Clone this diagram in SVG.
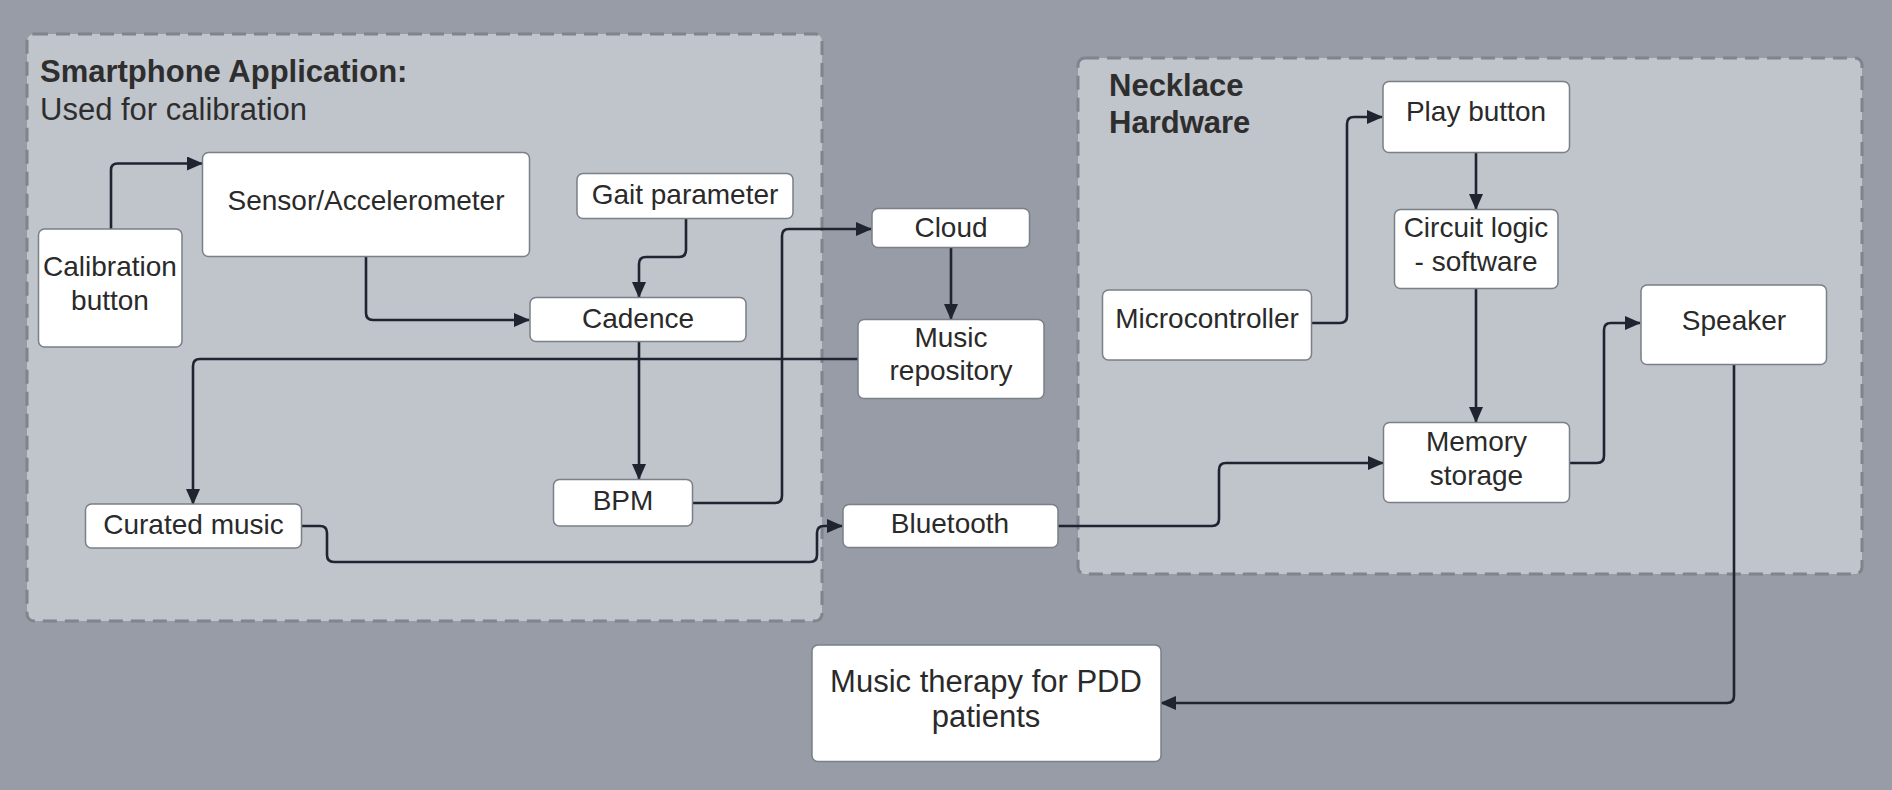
<svg xmlns="http://www.w3.org/2000/svg" width="1892" height="790" viewBox="0 0 1892 790">
<defs>
<marker id="arr" markerUnits="userSpaceOnUse" markerWidth="16" markerHeight="14" refX="15" refY="7" orient="auto">
<path d="M0,0 L16,7 L0,14 Z" fill="#1f2430"/>
</marker>
<style>
.grp{fill:#c0c4cb;stroke:#7f848d;stroke-width:3;stroke-dasharray:14 8}
.node{fill:#ffffff;stroke:#7a7f88;stroke-width:1.5}
.t{font-family:"Liberation Sans",Arial,sans-serif;font-size:28px;fill:#2a2a2a;text-anchor:middle}
.big{font-size:31px}
.title{font-family:"Liberation Sans",Arial,sans-serif;font-size:31px;fill:#2e2e2e}
.b{font-weight:bold}
.c{fill:none;stroke:#1f2430;stroke-width:2.6;stroke-linejoin:round}
.ca{marker-end:url(#arr)}
</style>
</defs>
<rect x="0" y="0" width="1892" height="790" fill="#979ca7"/>
<g id="group-smartphone">
<rect class="grp" x="27" y="34" width="795" height="587" rx="7"/>
<text class="title b" x="40" y="82">Smartphone Application:</text>
<text class="title" x="40" y="120">Used for calibration</text>
</g>
<g id="group-necklace">
<rect class="grp" x="1078" y="58" width="784" height="516" rx="7"/>
<text class="title b" x="1109" y="96">Necklace</text>
<text class="title b" x="1109" y="133">Hardware</text>
</g>
<g id="connectors">
<path class="c ca" d="M111,229 V170 Q111,163.5 117.5,163.5 H202"/>
<path class="c ca" d="M366,257 V313 Q366,320 373,320 H529"/>
<path class="c ca" d="M686,218 V250 Q686,257 679,257 H646 Q639,257 639,264 V297"/>
<path class="c ca" d="M639,342 V479"/>
<path class="c ca" d="M858,359 H200 Q193,359 193,366 V504"/>
<path class="c ca" d="M693,503 H775 Q782,503 782,496 V236 Q782,229 789,229 H871"/>
<path class="c ca" d="M951,248 V319"/>
<path class="c ca" d="M302,526 H320 Q327,526 327,533 V555 Q327,562 334,562 H810 Q817,562 817,555 V533 Q817,526 824,526 H842"/>
<path class="c ca" d="M1058,526 H1212 Q1219,526 1219,519 V470 Q1219,463 1226,463 H1383"/>
<path class="c ca" d="M1312,323 H1340 Q1347,323 1347,316 V124 Q1347,117 1354,117 H1382"/>
<path class="c ca" d="M1476,153 V209"/>
<path class="c ca" d="M1476,289 V422"/>
<path class="c ca" d="M1570,463 H1597 Q1604,463 1604,456 V330 Q1604,323 1611,323 H1640"/>
<path class="c ca" d="M1734,365 V696 Q1734,703 1727,703 H1161"/>
</g>
<g id="node-calibration">
<rect class="node" x="38.5" y="229" width="143.5" height="118" rx="6"/>
<text class="t" x="110" y="276">Calibration</text>
<text class="t" x="110" y="310">button</text>
</g>
<g id="node-sensor">
<rect class="node" x="202.5" y="152.5" width="327" height="104" rx="6"/>
<text class="t" x="366" y="210">Sensor/Accelerometer</text>
</g>
<g id="node-gait">
<rect class="node" x="577" y="173.5" width="216" height="45" rx="6"/>
<text class="t" x="685" y="204">Gait parameter</text>
</g>
<g id="node-cadence">
<rect class="node" x="530" y="297.5" width="216" height="44" rx="6"/>
<text class="t" x="638" y="328">Cadence</text>
</g>
<g id="node-bpm">
<rect class="node" x="553.5" y="479.5" width="139" height="46.5" rx="6"/>
<text class="t" x="623" y="510">BPM</text>
</g>
<g id="node-curated">
<rect class="node" x="85.5" y="504" width="216" height="44" rx="6"/>
<text class="t" x="193.5" y="534">Curated music</text>
</g>
<g id="node-cloud">
<rect class="node" x="872" y="208.5" width="157.5" height="39" rx="6"/>
<text class="t" x="951" y="237">Cloud</text>
</g>
<g id="node-repository">
<rect class="node" x="858" y="319.5" width="186" height="79" rx="6"/>
<text class="t" x="951" y="347">Music</text>
<text class="t" x="951" y="380">repository</text>
</g>
<g id="node-bluetooth">
<rect class="node" x="843" y="504.5" width="215" height="43" rx="6"/>
<text class="t" x="950" y="533">Bluetooth</text>
</g>
<g id="node-microcontroller">
<rect class="node" x="1102.5" y="290" width="209" height="70" rx="6"/>
<text class="t" x="1207" y="328">Microcontroller</text>
</g>
<g id="node-play">
<rect class="node" x="1383" y="81.5" width="186.5" height="71" rx="6"/>
<text class="t" x="1476" y="121">Play button</text>
</g>
<g id="node-circuit">
<rect class="node" x="1394.5" y="209.5" width="163.5" height="79" rx="6"/>
<text class="t" x="1476" y="237">Circuit logic</text>
<text class="t" x="1476" y="271">- software</text>
</g>
<g id="node-speaker">
<rect class="node" x="1641" y="285" width="185.5" height="79.5" rx="6"/>
<text class="t" x="1734" y="330">Speaker</text>
</g>
<g id="node-memory">
<rect class="node" x="1383.5" y="422.5" width="186" height="80" rx="6"/>
<text class="t" x="1476.5" y="451">Memory</text>
<text class="t" x="1476.5" y="485">storage</text>
</g>
<g id="node-therapy">
<rect class="node" x="812" y="645" width="349" height="116.5" rx="6"/>
<text class="t big" x="986" y="692">Music therapy for PDD</text>
<text class="t big" x="986" y="727">patients</text>
</g>
</svg>
